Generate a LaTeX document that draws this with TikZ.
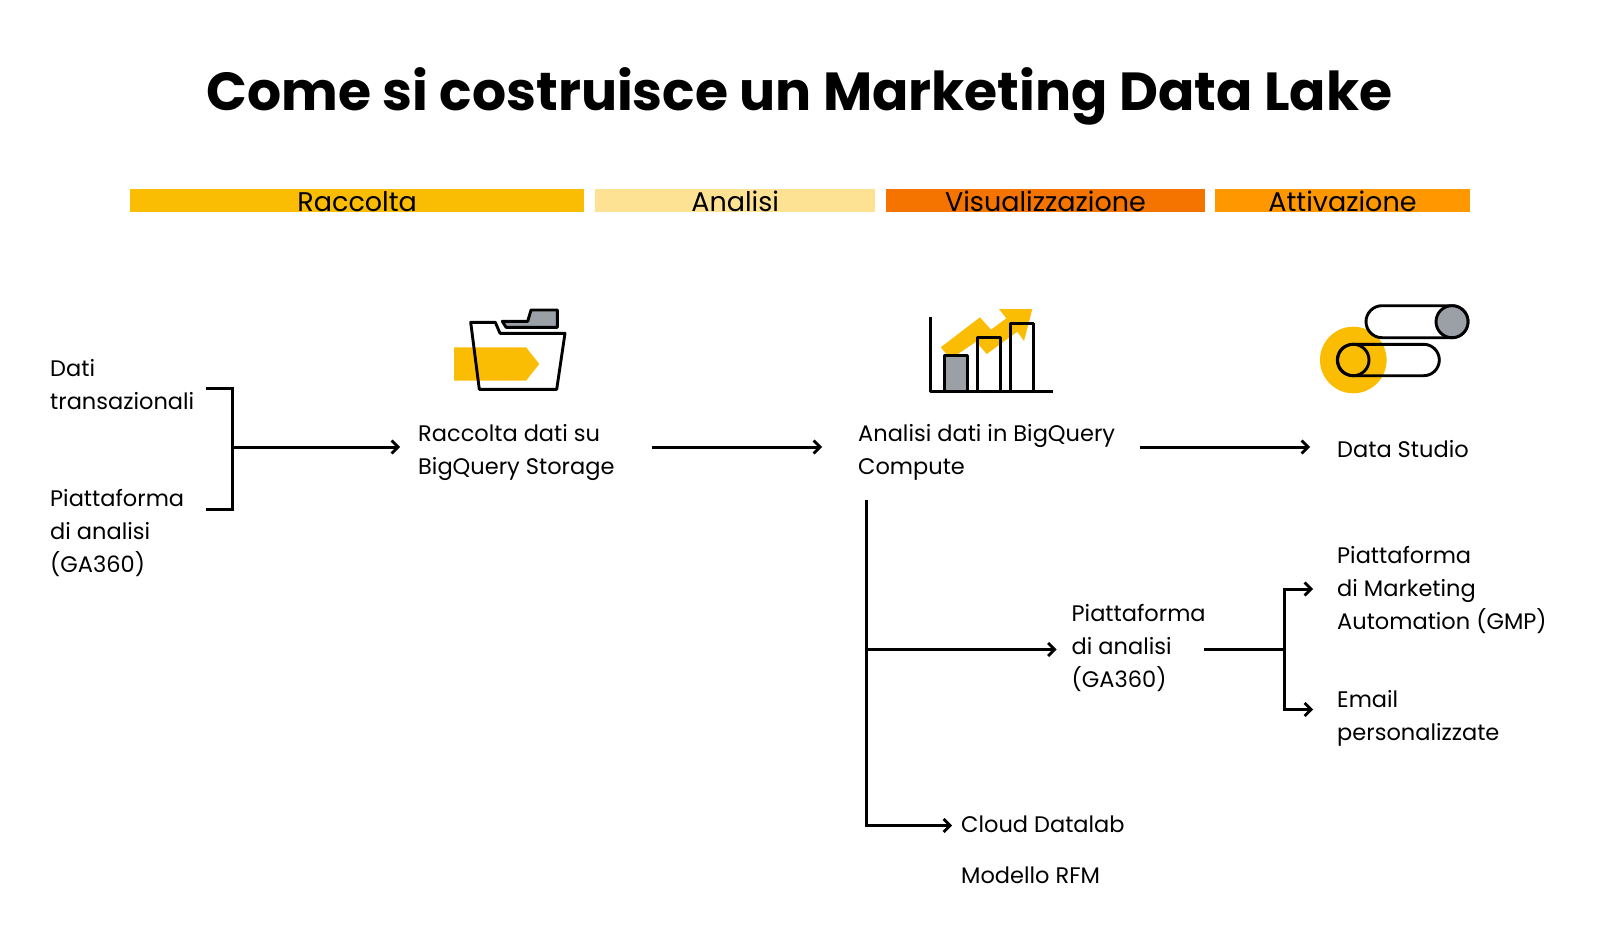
\documentclass[tikz,border=0pt]{standalone}
\usepackage{fontspec}
\setmainfont{Poppins}
\usetikzlibrary{arrows.meta,calc}
\definecolor{gyellow}{HTML}{FBBC04}
\definecolor{gpale}{HTML}{FDE293}
\definecolor{gdeep}{HTML}{F57400}
\definecolor{gorange}{HTML}{FF9800}
\definecolor{ggrey}{HTML}{9AA0A6}
\tikzset{
  txt/.style={anchor=west,align=left,inner sep=0pt,font=\fontsize{22.5}{33}\selectfont},
  band/.style={anchor=north west,inner sep=0pt,minimum height=22.5pt,text height=22.5pt,text depth=0pt,font=\fontsize{27}{30}\selectfont},
  link/.style={line width=3pt},
  linkarrow/.style={link,-{Straight Barb[length=6.5pt,width=13pt,line width=2.7pt]}},
  icon/.style={line width=2.9pt,line join=round}
}
\begin{document}
\begin{tikzpicture}[x=1pt,y=-1pt]
  \useasboundingbox (0,0) rectangle (1600,936);
  \node[inner sep=0pt,font=\bfseries\fontsize{53.6}{60}\selectfont] (title) at (799.5,96) {Come si costruisce un Marketing Data Lake};

  \node[band,fill=gyellow,minimum width=454pt] (raccolta) at (130,189) {Raccolta};
  \node[band,fill=gpale,minimum width=280pt] (analisi) at (595,189) {Analisi};
  \node[band,fill=gdeep,minimum width=318.5pt] (visual) at (886,189) {Visualizzazione};
  \node[band,fill=gorange,minimum width=254.5pt] (attiva) at (1215,189) {Attivazione};

  % folder
  \fill[gyellow] (454,347.3) -- (526,347.3) -- (539.3,364) -- (526,380.7) -- (454,380.7) -- cycle;
  \draw[icon,fill=ggrey] (502.3,321.3) -- (527.7,321.3) -- (531,310) -- (557.3,310) -- (557.3,327.3) -- (506,327.3) -- cycle;
  \draw[icon] (470.7,322.3) -- (495.3,322.3) -- (500,333.3) -- (565,333.3) -- (556.7,389.3) -- (479.3,389.3) -- cycle;

  % chart
  \fill[gyellow] (940.7,347.3) -- (980,317.3) -- (991,329.7) -- (1006.3,318.3) -- (999,309) -- (1032.3,309) -- (1024,341) -- (1017.3,331.7) -- (986.7,354) -- (976,341.7) -- (950.7,359) -- cycle;
  \draw[icon,fill=ggrey] (944.3,391.7) rectangle (967.3,355.7);
  \draw[icon] (977.3,391.7) rectangle (1000.7,337.3);
  \draw[icon] (1010.3,391.7) rectangle (1033.7,323.7);
  \draw[icon] (930.7,316.7) -- (930.7,391.7) -- (1053,391.7);

  % toggles
  \fill[gyellow] (1353.3,360) circle (33.3);
  \draw[icon,fill=white,rounded corners=16pt] (1366,305.7) rectangle (1468,337.7);
  \draw[icon,fill=ggrey] (1452,321.7) circle (16);
  \draw[icon,rounded corners=15.7pt] (1337.3,344.3) rectangle (1439.3,375.7);
  \draw[icon] (1353.3,360) circle (15.7);

  \node[txt] (dati) at (50,384.5) {Dati\\transazionali};
  \node[txt] (piatta) at (50,532.5) {Piattaforma\\di analisi\\(GA360)};
  \node[txt] (racdati) at (418,452) {Raccolta dati su\\BigQuery Storage};
  \node[txt] (bigq) at (858,452) {Analisi dati in BigQuery\\Compute};
  \node[txt] (studio) at (1337,449.5) {Data Studio};
  \node[txt] (ga) at (1071.5,647.5) {Piattaforma\\di analisi\\(GA360)};
  \node[txt] (gmp) at (1337,590) {Piattaforma\\di Marketing\\Automation (GMP)};
  \node[txt] (email) at (1337,718.5) {Email\\personalizzate};
  \node[txt] (datalab) at (961,824) {Cloud Datalab};
  \node[txt] (rfm) at (961,875) {Modello RFM};

  \coordinate (brktop) at (206,388);
  \coordinate (brkbot) at (206,509);
  \coordinate (brkmid) at (232,447);
  \coordinate (fork) at (866,649.5);
  \coordinate (forkin) at (1284,649.5);
  \coordinate (gmpin) at (1313,589);
  \coordinate (emailin) at (1313,709.5);

  \draw[link] (brktop) -| (brkmid) |- (brkbot);
  \draw[linkarrow,shorten >=18pt] (brkmid) -- (brkmid -| racdati.west);
  \draw[linkarrow,shorten <=37pt,shorten >=36pt] (brkmid -| racdati.east) -- (brkmid -| bigq.west);
  \draw[linkarrow,shorten <=25pt,shorten >=27pt] (brkmid -| bigq.east) -- (brkmid -| studio.west);
  \draw[link,shorten <=20pt] (fork |- bigq.south) -- (fork);
  \draw[linkarrow,shorten >=9pt] (fork) |- ([yshift=-1.5pt]datalab.west);
  \draw[linkarrow,shorten >=15pt] (fork) -- (fork -| ga.west);
  \draw[link,shorten <=-2pt] (fork -| ga.east) -- (forkin);
  \draw[linkarrow] (forkin) |- (gmpin);
  \draw[linkarrow] (forkin) |- (emailin);
\end{tikzpicture}
\end{document}
